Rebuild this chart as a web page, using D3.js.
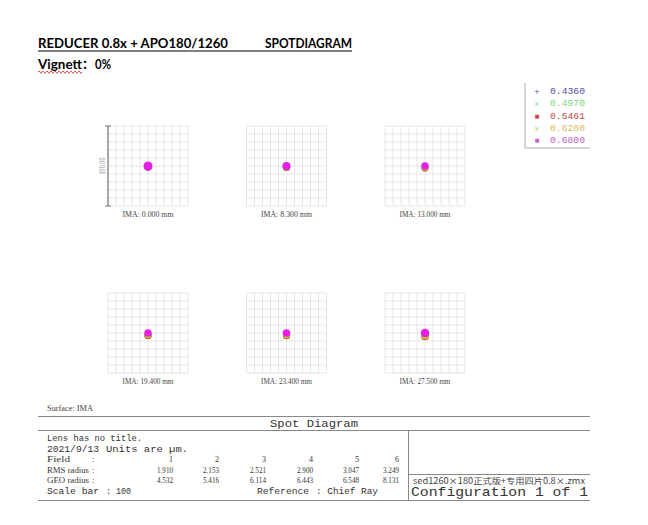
<!DOCTYPE html>
<html><head><meta charset="utf-8">
<script src="https://cdn.jsdelivr.net/npm/d3@7"></script>
<style>html,body{margin:0;padding:0;background:#fff;}svg{display:block;}svg text{white-space:pre;}</style>
</head><body>
<script>
// ---------- data ----------
const fieldIMA = ["0.000", "8.300", "13.000", "19.400", "23.400", "27.500"];
const fieldNumbers = ["1", "2", "3", "4", "5", "6"];
const rmsRadius = ["1.910", "2.153", "2.521", "2.900", "3.047", "3.249"];
const geoRadius = ["4.532", "5.416", "6.114", "6.443", "6.548", "8.131"];
const wavelengths = ["0.4360", "0.4970", "0.5461", "0.6200", "0.6800"];
const waveColors = ["#3c3ca8", "#55c455", "#b8482c", "#d4b43c", "#e61ee6"];
const waveTextColors = ["#5050a0", "#7ad67a", "#c84848", "#d8bc5a", "#c060c8"];
const waveSymbols = ["+", "×", "■", "×", "■"];
// spot per field: centroid offset (µm, +down) and radius (µm), per wavelength
const spotDy = [
  [0.6, 0.5, 0.5, 0.4, 0.0],
  [1.6, 1.2, 1.1, 1.0, 0.0],
  [2.4, 2.2, 2.6, 1.8, 0.0],
  [3.0, 3.1, 3.4, 2.6, 0.0],
  [3.0, 3.1, 3.4, 2.6, 0.0],
  [3.8, 3.9, 4.2, 3.4, 0.0]
];
const spotR = [
  [5.0, 5.0, 5.0, 5.0, 5.6],
  [4.6, 4.6, 4.6, 4.6, 5.0],
  [4.2, 4.2, 4.2, 4.2, 4.6],
  [4.4, 4.4, 4.4, 4.4, 4.6],
  [4.4, 4.4, 4.4, 4.4, 4.8],
  [4.8, 4.8, 4.8, 4.8, 5.4]
];
const scaleBar = 100;

// ---------- drawing ----------
const W = 648, H = 525;
const svg = d3.select("body").append("svg").attr("width", W).attr("height", H);

function txt(g, s, x, y, opt) {
  const t = g.append("text").attr("x", x).attr("y", y).text(s)
    .attr("font-family", opt.font || "Liberation Mono")
    .attr("font-size", opt.size || 10)
    .attr("fill", opt.fill || "#333");
  if (opt.weight) t.attr("font-weight", opt.weight);
  if (opt.anchor) t.attr("text-anchor", opt.anchor);
  if (opt.len) t.attr("textLength", opt.len).attr("lengthAdjust", "spacingAndGlyphs");
  return t;
}

// header
const hdr = svg.append("g");
txt(hdr, "REDUCER 0.8x + APO180/1260", 38, 48, {font: "Lato", size: 12.5, weight: "bold", fill: "#000", len: 190});
txt(hdr, "SPOTDIAGRAM", 265, 48, {font: "Lato", size: 12.5, weight: "bold", fill: "#000", len: 87});
hdr.append("line").attr("x1", 38).attr("x2", 352).attr("y1", 51).attr("y2", 51).attr("stroke", "#000").attr("stroke-width", 1);
txt(hdr, "Vignett", 38, 69, {font: "Lato", size: 12.5, weight: "bold", fill: "#000", len: 44});
txt(hdr, "：", 82, 69, {font: "Noto Sans CJK SC", size: 12, weight: "bold", fill: "#000"});
txt(hdr, "0%", 95, 69, {font: "Lato", size: 12.5, weight: "bold", fill: "#000", len: 16});
// spell-check wavy underline
let wp = "M38,72";
for (let x = 38; x < 82; x += 2) wp += ` L${x + 1},${(x / 2) % 2 === 0 ? 73.5 : 71} L${x + 2},72`;
hdr.append("path").attr("d", wp).attr("fill", "none").attr("stroke", "#d03030").attr("stroke-width", 0.8);

// legend
const lg = svg.append("g");
lg.append("path").attr("d", "M525,83 L525,148 L590,148").attr("fill", "none").attr("stroke", "#aaa").attr("stroke-width", 1);
const ly = d3.scaleLinear().domain([0, 4]).range([94, 143]);
wavelengths.forEach((w, i) => {
  txt(lg, waveSymbols[i], 537, ly(i) - (waveSymbols[i] === "■" ? 1 : 0), {font: "DejaVu Sans", size: waveSymbols[i] === "■" ? 5 : 7, fill: waveTextColors[i], anchor: "middle"});
  txt(lg, w, 550, ly(i), {font: "Liberation Mono", size: 9.5, fill: waveTextColors[i], len: 35});
});

// spot boxes
const boxLeft = [108, 246.5, 385];
const boxTop = [126, 293];
const boxSize = 80;
fieldIMA.forEach((ima, f) => {
  const col = f % 3, row = Math.floor(f / 3);
  const x0 = boxLeft[col], y0 = boxTop[row];
  const sx = d3.scaleLinear().domain([-scaleBar / 2, scaleBar / 2]).range([x0, x0 + boxSize]);
  const sy = d3.scaleLinear().domain([-scaleBar / 2, scaleBar / 2]).range([y0, y0 + boxSize]);
  const g = svg.append("g");
  const ticks = d3.range(-50, 51, 10);
  g.selectAll(".v").data(ticks).join("line")
    .attr("x1", d => sx(d)).attr("x2", d => sx(d)).attr("y1", sy(-50)).attr("y2", sy(50))
    .attr("stroke", "#e6e6e6").attr("stroke-width", 1);
  g.selectAll(".h").data(ticks).join("line")
    .attr("y1", d => sy(d)).attr("y2", d => sy(d)).attr("x1", sx(-50)).attr("x2", sx(50))
    .attr("stroke", "#e6e6e6").attr("stroke-width", 1);
  // spots, drawn by wavelength order (last on top)
  wavelengths.forEach((w, i) => {
    g.append("circle").attr("cx", sx(0)).attr("cy", sy(spotDy[f][i]))
      .attr("r", sx(spotR[f][i]) - sx(0)).attr("fill", waveColors[i]);
  });
  txt(g, `IMA: ${ima} mm`, sx(0), y0 + boxSize + 11, {font: "Liberation Serif", size: 9, fill: "#444", anchor: "middle", len: 51});
  if (f === 0) {
    const ax = sx(-50);
    g.append("line").attr("x1", ax).attr("x2", ax).attr("y1", sy(-50)).attr("y2", sy(50)).attr("stroke", "#777").attr("stroke-width", 1.2);
    g.append("line").attr("x1", ax - 3).attr("x2", ax + 3).attr("y1", sy(-50)).attr("y2", sy(-50)).attr("stroke", "#777");
    g.append("line").attr("x1", ax - 3).attr("x2", ax + 3).attr("y1", sy(50)).attr("y2", sy(50)).attr("stroke", "#777");
    g.append("text").attr("transform", `translate(${ax - 3},${sy(0)}) rotate(-90)`)
      .attr("text-anchor", "middle").attr("font-family", "Liberation Serif").attr("font-size", 9)
      .attr("fill", "#999").attr("textLength", 17).attr("lengthAdjust", "spacingAndGlyphs")
      .text(scaleBar.toFixed(2));
  }
});

// bottom table
const tb = svg.append("g");
const ln = (x1, y1, x2, y2) => tb.append("line").attr("x1", x1).attr("y1", y1).attr("x2", x2).attr("y2", y2).attr("stroke", "#888").attr("stroke-width", 1);
txt(tb, "Surface: IMA", 47, 411, {font: "Liberation Serif", size: 8, fill: "#444", len: 46});
ln(38, 416.5, 590, 416.5);
txt(tb, "Spot Diagram", 270, 427, {font: "Liberation Mono", size: 11.5, fill: "#333", len: 88});
ln(38, 430.5, 590, 430.5);
ln(38, 500.5, 590, 500.5);
ln(408.5, 430.5, 408.5, 500.5);
ln(408.5, 474.5, 590, 474.5);
txt(tb, "Lens has no title.", 47, 441, {font: "Liberation Mono", size: 9, len: 95});
txt(tb, "2021/9/13", 47, 451.5, {font: "Liberation Mono", size: 9, len: 52});
txt(tb, "Units are µm.", 106, 451.5, {font: "Liberation Mono", size: 9, len: 82});
const colRight = [173, 219, 266, 313, 359, 399];
const rowLab = [["Field", 462, fieldNumbers, 23], ["RMS radius", 472.5, rmsRadius, 42], ["GEO radius", 483, geoRadius, 42]];
rowLab.forEach(([lab, y, vals, w]) => {
  txt(tb, lab, 47, y, {font: "Liberation Serif", size: 9, len: w});
  txt(tb, ":", 92, y, {font: "Liberation Serif", size: 9});
  vals.forEach((v, i) => txt(tb, v, colRight[i], y, {font: "Liberation Serif", size: 9, anchor: "end", len: v.length === 1 ? 4 : 16}));
});
txt(tb, "Scale bar", 47, 494, {font: "Liberation Mono", size: 9, len: 52});
txt(tb, ": " + scaleBar, 106, 494, {font: "Liberation Mono", size: 9, len: 25});
txt(tb, "Reference", 257, 494, {font: "Liberation Mono", size: 9, len: 52});
txt(tb, ": Chief Ray", 316, 494, {font: "Liberation Mono", size: 9, len: 62});
txt(tb, "sed1260×180正式版+专用四片0.8×.zmx", 413, 484, {font: "Noto Sans CJK SC", size: 8.5, fill: "#444", len: 172});
txt(tb, "Configuration 1 of 1", 411, 496, {font: "Liberation Mono", size: 13, fill: "#333", len: 177});
</script>
</body></html>
